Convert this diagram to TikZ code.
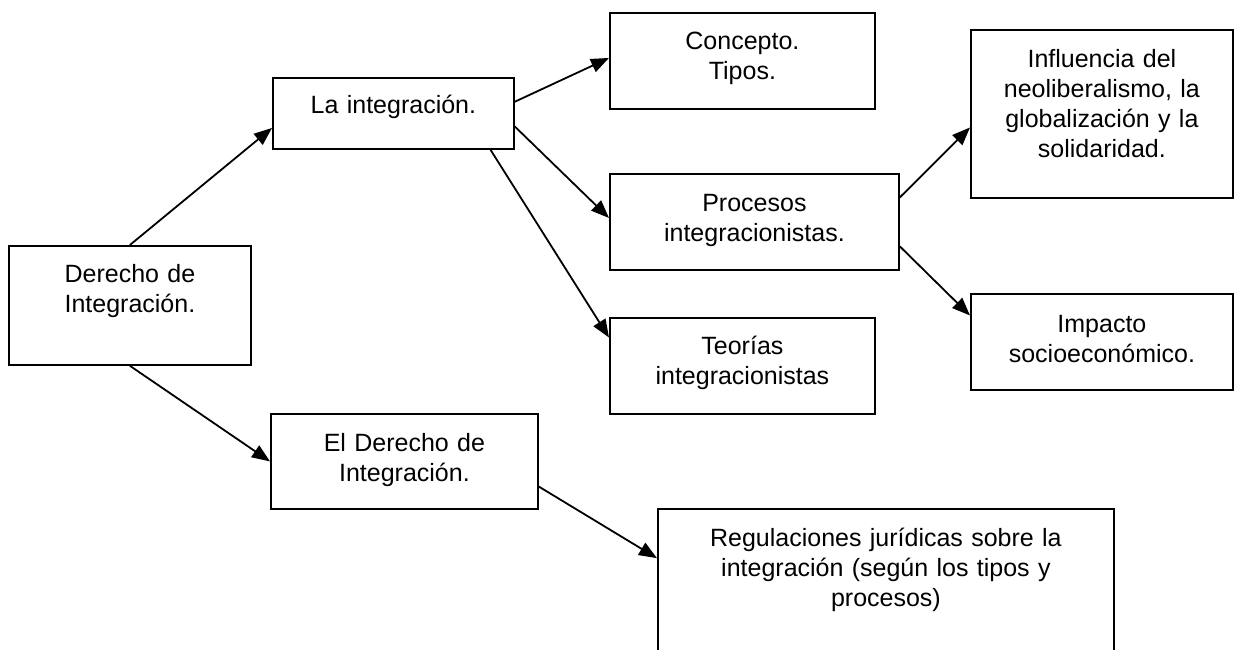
\documentclass[tikz,border=0pt]{standalone}
\usepackage{fontspec}
\setmainfont{Liberation Sans}
\usetikzlibrary{calc,arrows.meta}

\begin{document}
\begin{tikzpicture}[
			x=1pt, y=-1pt, %osie jak w pikselach, y w dol
			caja/.style={draw, line width=1.8pt, anchor=north west, inner sep=0pt},
			texto/.style={anchor=base, align=center, inner sep=0pt, font=\fontsize{25}{30}\selectfont},
			flecha/.style={draw, line width=1.8pt, -{Triangle[length=18pt,width=14pt]}}
			]
			\useasboundingbox (0,0) rectangle (1234,650);
			% cajas
			\node[caja, minimum width=242pt, minimum height=119pt] (der) at (8,245) {};
			\node[caja, minimum width=241pt, minimum height=71pt] (lint) at (272,77) {};
			\node[caja, minimum width=265pt, minimum height=96pt] (con) at (609,12) {};
			\node[caja, minimum width=289pt, minimum height=96pt] (pro) at (609,173) {};
			\node[caja, minimum width=265pt, minimum height=96pt] (teo) at (609,317) {};
			\node[caja, minimum width=262pt, minimum height=168pt] (inf) at (970,29) {};
			\node[caja, minimum width=262pt, minimum height=96pt] (imp) at (970,293) {};
			\node[caja, minimum width=267pt, minimum height=95pt] (edi) at (270,413) {};
			\node[caja, minimum width=456pt, minimum height=160pt] (reg) at (657,508) {};
			% textos
			\node[texto, text width=236pt] (dert) at ($(der.north)+(0,37)$) {Derecho de\\Integración.};
			\node[texto, text width=236pt] (lintt) at ($(lint.north)+(0,37)$) {La integración.};
			\node[texto, text width=258pt] (cont) at ($(con.north)+(0,38)$) {Concepto.\\Tipos.};
			\node[texto, text width=282pt] (prot) at ($(pro.north)+(0,38)$) {Procesos\\integracionistas.};
			\node[texto, text width=258pt] (teot) at ($(teo.north)+(0,37)$) {Teorías\\integracionistas};
			\node[texto, text width=256pt] (inft) at ($(inf.north)+(0,39)$) {Influencia del\\neoliberalismo, la\\globalización y la\\solidaridad.};
			\node[texto, text width=256pt] (impt) at ($(imp.north)+(0,39)$) {Impacto\\socioeconómico.};
			\node[texto, text width=260pt] (edit) at ($(edi.north)+(0,38)$) {El Derecho de\\Integración.};
			\node[texto, text width=450pt] (regt) at ($(reg.north)+(0,38)$) {Regulaciones jurídicas sobre la\\integración (según los tipos y\\procesos)};
			% flechas
			\draw[flecha] (der.north) -- ($(lint.north west)!0.70!(lint.south west)$);
			\draw[flecha] (der.south) -- (edi.west);
			\draw[flecha] ($(lint.north east)!0.34!(lint.south east)$) -- ($(con.north west)!0.47!(con.south west)$);
			\draw[flecha] ($(lint.north east)!0.68!(lint.south east)$) -- ($(pro.north west)!0.46!(pro.south west)$);
			\draw[flecha] ($(lint.south west)!0.9!(lint.south east)$) -- ($(teo.north west)!0.21!(teo.south west)$);
			\draw[flecha] ($(pro.north east)!0.25!(pro.south east)$) -- ($(inf.north west)!0.58!(inf.south west)$);
			\draw[flecha] ($(pro.north east)!0.75!(pro.south east)$) -- ($(imp.north west)!0.23!(imp.south west)$);
			\draw[flecha] ($(edi.north east)!0.76!(edi.south east)$) -- ($(reg.north west)!0.31!(reg.south west)$);
		\end{tikzpicture}
\end{document}
